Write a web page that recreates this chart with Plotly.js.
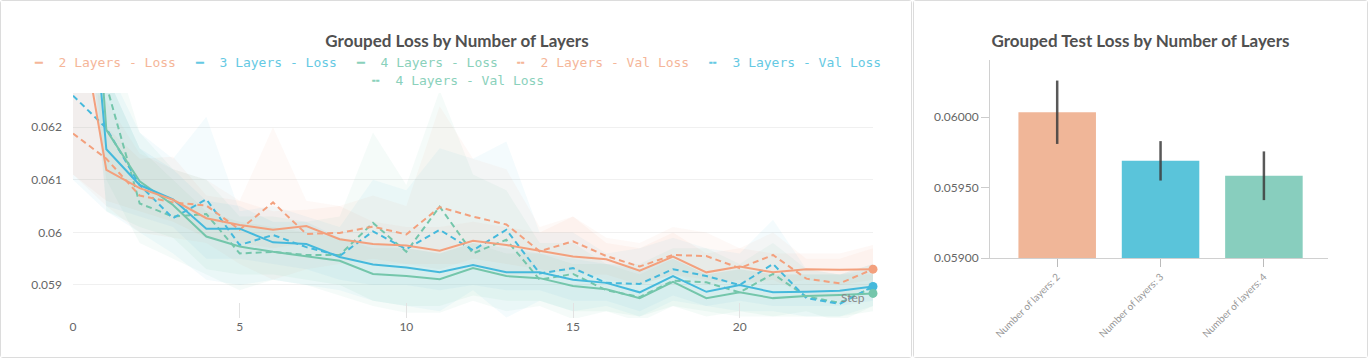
<!DOCTYPE html>
<html>
<head>
<meta charset="utf-8">
<script src="https://cdn.plot.ly/plotly-3.0.1.min.js"></script>
<style>
  body { margin: 0; background: #fff; width: 1370px; height: 364px; overflow: hidden; }
  .card { position: absolute; top: 0; border: 1px solid #dcdcdc; border-radius: 3px; background: #fff; }
  #leftCard { left: 0; width: 910px; height: 356px; }
  #rightCard { left: 913px; width: 453px; height: 356px; }
</style>
</head>
<body>
<div class="card" id="leftCard"><div id="lossPlot"></div></div>
<div class="card" id="rightCard"><div id="testPlot"></div></div>
<script>
// ---- data: loss per step ----
var steps = [0,1,2,3,4,5,6,7,8,9,10,11,12,13,14,15,16,17,18,19,20,21,22,23,24];

var loss2 = [0.06485,0.06119,0.06084,0.06062,0.06027,0.06014,0.06005,0.06012,0.05987,0.05978,0.05975,0.05965,0.05984,0.05976,0.05965,0.05954,0.05949,0.05927,0.05954,0.05924,0.05935,0.05924,0.0593,0.05929,0.0593];
var loss2Hi = [0.0660,0.0620,0.0614,0.06144,0.0607,0.0606,0.0604,0.06043,0.0605,0.0602,0.0601,0.0601,0.0602,0.0601,0.0600,0.0603,0.0598,0.0597,0.0600,0.0596,0.0597,0.0596,0.0596,0.0596,0.05976];
var loss2Lo = [0.0611,0.0606,0.0604,0.0602,0.0599,0.0598,0.0597,0.0598,0.0595,0.0594,0.0594,0.0593,0.0595,0.0594,0.0593,0.0592,0.0592,0.0590,0.0592,0.0590,0.0591,0.0590,0.0591,0.0590,0.0591];

var loss3 = [0.0687,0.06158,0.0609,0.06063,0.06007,0.06007,0.05981,0.05978,0.05953,0.05939,0.05933,0.05924,0.05938,0.05924,0.05924,0.0591,0.05904,0.05886,0.05917,0.05887,0.059,0.05886,0.05887,0.05889,0.05897];
var loss3Hi = [0.0700,0.0630,0.0616,0.0612,0.0606,0.0605,0.0602,0.0602,0.0599,0.0598,0.0597,0.0596,0.0598,0.0597,0.0596,0.0595,0.0594,0.0593,0.0595,0.0592,0.0593,0.0592,0.0592,0.0592,0.0593];
var loss3Lo = [0.0670,0.0605,0.0603,0.0601,0.0595,0.0595,0.0594,0.0593,0.0591,0.0590,0.0590,0.0589,0.0590,0.0589,0.0589,0.0587,0.0587,0.0585,0.0588,0.0586,0.0587,0.0586,0.0586,0.0586,0.0587];

var loss4 = [0.0707,0.06195,0.06097,0.06052,0.05992,0.05973,0.05963,0.05955,0.05946,0.05921,0.05917,0.05911,0.05932,0.05917,0.05913,0.05898,0.05892,0.05875,0.05906,0.05875,0.05886,0.05875,0.05879,0.05881,0.05884];
var loss4Hi = [0.0730,0.0630,0.0616,0.0610,0.0604,0.0602,0.0601,0.0600,0.0599,0.0597,0.0597,0.0596,0.0598,0.0596,0.0596,0.0594,0.0594,0.0592,0.0595,0.0592,0.0593,0.0592,0.0592,0.0592,0.0592];
var loss4Lo = [0.0690,0.0604,0.0601,0.0599,0.0593,0.0592,0.0592,0.0591,0.0590,0.0587,0.0586,0.0586,0.0588,0.0587,0.0587,0.0585,0.0585,0.0584,0.0586,0.0584,0.0585,0.0584,0.0584,0.0584,0.0585];

var val2 = [0.06188,0.0614,0.0607,0.06057,0.06051,0.06005,0.06057,0.05997,0.05999,0.06011,0.05996,0.06048,0.0603,0.06015,0.05964,0.05983,0.05955,0.05935,0.05957,0.05955,0.05932,0.05957,0.05912,0.05903,0.0593];
var val2Hi = [0.0630,0.0625,0.0615,0.0612,0.0610,0.0606,0.0620,0.0606,0.0605,0.0607,0.0605,0.0624,0.0614,0.0612,0.0601,0.0603,0.0599,0.0598,0.0601,0.0600,0.0597,0.0600,0.0595,0.0595,0.0597];
var val2Lo = [0.0611,0.0605,0.0600,0.0599,0.0598,0.0594,0.0591,0.0593,0.0594,0.0595,0.0594,0.0594,0.0594,0.0592,0.0592,0.0593,0.0591,0.0590,0.0592,0.0591,0.0590,0.0591,0.0588,0.0587,0.0590];

var val3 = [0.0626,0.06198,0.0609,0.06027,0.06063,0.05976,0.05995,0.05972,0.05955,0.06002,0.05968,0.06005,0.05966,0.06005,0.05922,0.05932,0.05904,0.05902,0.0593,0.05917,0.059,0.0594,0.05875,0.05864,0.05897];
var val3Hi = [0.0635,0.0632,0.0619,0.0614,0.0622,0.0604,0.0605,0.0603,0.0601,0.0610,0.0608,0.0616,0.0614,0.06173,0.0600,0.0600,0.0596,0.0597,0.0599,0.0597,0.0596,0.06024,0.0593,0.0592,0.0594];
var val3Lo = [0.0610,0.0604,0.0600,0.0596,0.0591,0.0590,0.0591,0.0590,0.0589,0.0587,0.0586,0.0585,0.0589,0.05838,0.0587,0.0585,0.0586,0.0584,0.0587,0.0586,0.0585,0.0585,0.0584,0.0584,0.0586];

var val4 = [0.0700,0.0628,0.06055,0.0603,0.06035,0.0596,0.05963,0.05957,0.05957,0.06018,0.05963,0.06049,0.0596,0.05986,0.0591,0.05921,0.0589,0.05877,0.05908,0.05905,0.05886,0.05921,0.05878,0.05866,0.05896];
var val4Hi = [0.0720,0.0640,0.0619,0.0612,0.0610,0.0603,0.0603,0.0602,0.0603,0.0619,0.0609,0.0627,0.0611,0.0608,0.0598,0.0598,0.0594,0.0594,0.0597,0.0597,0.0594,0.0598,0.0593,0.0592,0.0594];
var val4Lo = [0.0660,0.0610,0.0598,0.0595,0.0592,0.0589,0.0591,0.0590,0.0588,0.0586,0.05847,0.05847,0.0587,0.0585,0.0586,0.05835,0.0585,0.0583,0.0586,0.0585,0.0584,0.0584,0.0585,0.0583,0.0586];

// ---- data: test loss per group ----
var groups = ["Number of layers: 2", "Number of layers: 3", "Number of layers: 4"];
var testLoss = [0.060035, 0.05969, 0.059584];
var testErr = [0.000225, 0.00014, 0.000173];

// colours
var orange = "#f3a07d", blue = "#45b9dc", green = "#74c6ab";
var orangeText = "#f5b699", blueText = "#65c9e3", greenText = "#8ad1bb";
var barColors = ["#f0b698", "#5ac4da", "#88cebe"];

var series = [
  { name: "2 Layers - Loss",     y: loss2, hi: loss2Hi, lo: loss2Lo, color: orange, text: orangeText, band: "rgba(243,160,125,0.07)", dash: "solid" },
  { name: "3 Layers - Loss",     y: loss3, hi: loss3Hi, lo: loss3Lo, color: blue,   text: blueText,   band: "rgba(69,185,220,0.07)",  dash: "solid" },
  { name: "4 Layers - Loss",     y: loss4, hi: loss4Hi, lo: loss4Lo, color: green,  text: greenText,  band: "rgba(116,198,171,0.08)", dash: "solid" },
  { name: "2 Layers - Val Loss", y: val2,  hi: val2Hi,  lo: val2Lo,  color: orange, text: orangeText, band: "rgba(243,160,125,0.06)", dash: "6px,4px" },
  { name: "3 Layers - Val Loss", y: val3,  hi: val3Hi,  lo: val3Lo,  color: blue,   text: blueText,   band: "rgba(69,185,220,0.06)",  dash: "6px,4px" },
  { name: "4 Layers - Val Loss", y: val4,  hi: val4Hi,  lo: val4Lo,  color: green,  text: greenText,  band: "rgba(116,198,171,0.07)", dash: "6px,4px" }
];

var W = 910, H = 356;
var m = { l: 72, r: 38, t: 92, b: 39 };
var plotW = W - m.l - m.r, plotH = H - m.t - m.b;

var traces = [];
series.forEach(function (s) {
  traces.push({
    x: steps.concat(steps.slice().reverse()),
    y: s.hi.concat(s.lo.slice().reverse()),
    fill: "toself", fillcolor: s.band, line: { width: 0 },
    mode: "lines", hoverinfo: "skip", showlegend: false
  });
});
series.slice().reverse().forEach(function (s) {
  traces.push({
    x: steps, y: s.y, mode: "lines", showlegend: false,
    line: { color: s.color, width: 2, dash: s.dash }
  });
});
// end markers on the train-loss lines
series.slice(0, 3).forEach(function (s) {
  var last = steps.length - 1;
  traces.push({
    x: [steps[last]], y: [s.y[last]], mode: "markers", showlegend: false, cliponaxis: false,
    marker: { color: s.color, size: 9 }
  });
});

// legend drawn as annotations so rows centre like the original
var charW = 7.83, gap = 20, legendCenter = 456;
var rows = [[0, 1, 2, 3, 4], [5]];
var rowY = [62, 80];
var annotations = [];
rows.forEach(function (row, ri) {
  var labels = row.map(function (i) {
    var s = series[i];
    return (s.dash === "solid" ? "\u2501" : "\u254D") + "  " + s.name;
  });
  var total = labels.reduce(function (a, t) { return a + t.length * charW; }, 0) + gap * (row.length - 1);
  var px = legendCenter - total / 2 - 1;
  row.forEach(function (i, k) {
    annotations.push({
      xref: "paper", yref: "paper",
      x: (px - m.l) / plotW, y: (H - m.b - (rowY[ri] - 1)) / plotH,
      xanchor: "left", yanchor: "middle", showarrow: false,
      text: labels[k],
      font: { family: "DejaVu Sans Mono", size: 13, color: series[i].text }
    });
    px += labels[k].length * charW + gap;
  });
});
annotations.push({
  xref: "paper", yref: "paper", x: 1, y: (H - m.b - 296) / plotH,
  xanchor: "right", yanchor: "middle", xshift: -6, showarrow: false,
  text: "Step", font: { family: "Lato", size: 12, color: "#888" }
});

var lossLayout = {
  width: W, height: H, margin: m,
  paper_bgcolor: "#fff", plot_bgcolor: "#fff",
  title: {
    text: "Grouped Loss by Number of Layers",
    x: (457 - 1) / W, xanchor: "center", y: 1 - 40 / H, yanchor: "middle",
    font: { family: "Lato", size: 17, color: "#505050", weight: "bold" }
  },
  showlegend: false,
  xaxis: {
    range: [0, 24], dtick: 5, tick0: 0, showgrid: false, zeroline: false, showline: false,
    ticks: "inside", ticklen: 15, tickcolor: "#e2e2e2",
    tickfont: { family: "Lato", size: 12, color: "#666" }
  },
  yaxis: {
    range: [0.058372, 0.06265], dtick: 0.001, tick0: 0.059, zeroline: false, showline: false,
    gridcolor: "#f0f0f0", ticks: "", ticklabelstandoff: 10,
    tickfont: { family: "Lato", size: 12, color: "#666" }
  },
  annotations: annotations
};

Plotly.newPlot("lossPlot", traces, lossLayout, { staticPlot: true });

// ---- right panel: grouped test loss ----
var bars = [{
  type: "bar", x: groups, y: testLoss,
  marker: { color: barColors },
  error_y: { type: "data", array: testErr, color: "rgba(60,60,60,0.85)", thickness: 2.5, width: 0 }
}];

var testLayout = {
  width: 453, height: 356,
  margin: { l: 76, r: 39, t: 59, b: 99 },
  paper_bgcolor: "#fff", plot_bgcolor: "#fff",
  bargap: 0.25,
  title: {
    text: "Grouped Test Loss by Number of Layers",
    x: 0.5, xanchor: "center", y: 1 - 40 / 356, yanchor: "middle",
    font: { family: "Lato", size: 17, color: "#505050", weight: "bold" }
  },
  showlegend: false,
  xaxis: {
    range: [-0.65, 2.62], showgrid: false, zeroline: false,
    showline: true, linecolor: "#d0d0d0", linewidth: 1,
    ticks: "outside", ticklen: 8, tickcolor: "#bbb", tickangle: -45,
    tickfont: { family: "Lato", size: 10, color: "#999" }
  },
  yaxis: {
    range: [0.059, 0.060406], tick0: 0.059, dtick: 0.0005, tickformat: ".5f",
    showgrid: false, zeroline: false, showline: true, linecolor: "#d0d0d0", linewidth: 1,
    ticks: "outside", ticklen: 8, tickcolor: "#ccc",
    tickfont: { family: "Lato", size: 12, color: "#666" }
  }
};

Plotly.newPlot("testPlot", bars, testLayout, { staticPlot: true });
</script>
</body>
</html>
